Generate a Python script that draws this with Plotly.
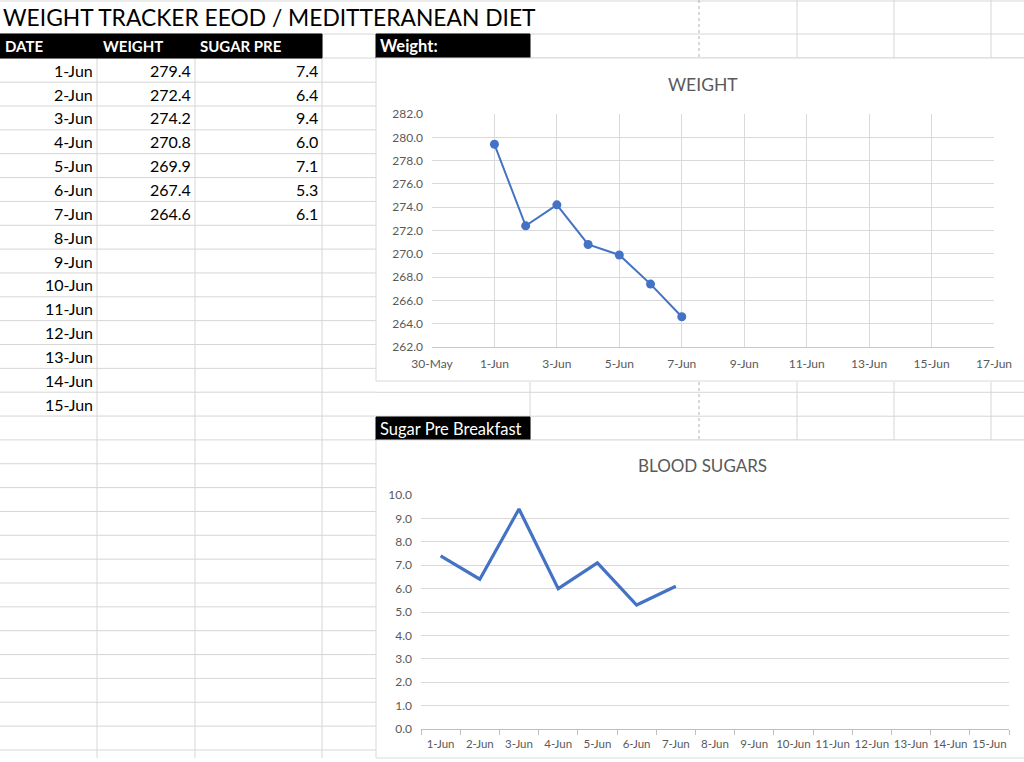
import plotly.graph_objects as go
import pandas as pd

# sheet data
date_labels = ["1-Jun", "2-Jun", "3-Jun", "4-Jun", "5-Jun", "6-Jun", "7-Jun", "8-Jun",
               "9-Jun", "10-Jun", "11-Jun", "12-Jun", "13-Jun", "14-Jun", "15-Jun"]
weight = [279.4, 272.4, 274.2, 270.8, 269.9, 267.4, 264.6]
sugar_pre = [7.4, 6.4, 9.4, 6.0, 7.1, 5.3, 6.1]
headers = ["DATE", "WEIGHT", "SUGAR PRE"]
sheet_title = "WEIGHT TRACKER EEOD / MEDITTERANEAN DIET"

W, H = 1024, 762
blue = "#4472C4"
cell_line = "#d6d6d6"
txt_gray = "#595959"
font_name = "Lato"


def px(x):
    return x / W


def py(y):
    return 1 - y / H


weight_dates = pd.to_datetime([d + "-2020" for d in date_labels[:len(weight)]], format="%d-%b-%Y")

fig = go.Figure()

# weight chart
fig.add_trace(go.Scatter(x=weight_dates, y=weight, mode="lines+markers",
                         line=dict(color=blue, width=2),
                         marker=dict(color=blue, size=9),
                         xaxis="x", yaxis="y"))

# sugar chart
fig.add_trace(go.Scatter(x=date_labels[:len(sugar_pre)], y=sugar_pre, mode="lines",
                         line=dict(color=blue, width=3.2),
                         xaxis="x2", yaxis="y2"))

shapes = []
annotations = []


def hline(y, x0, x1, color=cell_line, dash="solid"):
    shapes.append(dict(type="line", xref="paper", yref="paper", x0=px(x0), x1=px(x1),
                       y0=py(y), y1=py(y), line=dict(color=color, width=1, dash=dash), layer="below"))


def vline(x, y0, y1, color=cell_line, dash="solid"):
    shapes.append(dict(type="line", xref="paper", yref="paper", x0=px(x), x1=px(x),
                       y0=py(y0), y1=py(y1), line=dict(color=color, width=1, dash=dash), layer="below"))


def rect(x0, y0, x1, y1, fill, line_color=None):
    shapes.append(dict(type="rect", xref="paper", yref="paper", x0=px(x0), x1=px(x1),
                       y0=py(y1), y1=py(y0), fillcolor=fill,
                       line=dict(color=line_color or fill, width=1), layer="below"))


def text(x, y, s, size=16, color="black", anchor="left", bold=False):
    annotations.append(dict(xref="paper", yref="paper", x=px(x), y=py(y), text=("<b>%s</b>" % s) if bold else s,
                            showarrow=False, xanchor=anchor, yanchor="middle",
                            font=dict(family=font_name, size=size, color=color)))


# spreadsheet grid
row0, row_h = 58.3, 23.85
rows = [row0 + row_h * k for k in range(30)]
hline(1, 0, W)
hline(34, 0, W)
hline(58, 0, W)
for y in rows[1:]:
    hline(y, 0, 376)
for x in [97, 195, 322]:
    vline(x, 34, 758)
for x in [797, 894, 991]:
    vline(x, 0, 58)
vline(699, 0, 58, color="#b0b0b0", dash="dot")
# cells between the two charts
for y in [392.3, 416.2, 440]:
    hline(y, 376, W)
for x in [530, 797, 894, 991]:
    vline(x, 382, 440)
vline(699, 382, 440, color="#b0b0b0", dash="dot")

# header blocks
rect(0, 34, 322, 58, "black")
rect(376, 34, 530, 58, "black")
rect(376, 417, 530, 440, "black")

# chart frames
rect(376, 58, W + 5, 381, "white", "#d9d9d9")
rect(376, 440, W + 5, 758, "white", "#d9d9d9")

# texts
text(1, 17, sheet_title, size=22.8)
for x, h in zip([3, 101, 198], headers):
    text(x, 46, h, size=15, color="white", bold=True)
text(378, 46, "Weight:", size=16.5, color="white", bold=True)
text(378, 429, "Sugar Pre Breakfast", size=16.5, color="white")
for i, d in enumerate(date_labels):
    yc = row0 + row_h * (i + 0.5)
    text(95, yc, d, anchor="right")
    if i < len(weight):
        text(193, yc, "%.1f" % weight[i], anchor="right")
        text(320, yc, "%.1f" % sugar_pre[i], anchor="right")

text(703, 84, "WEIGHT", size=17.5, color=txt_gray, anchor="center")
text(702, 465, "BLOOD SUGARS", size=17, color=txt_gray, anchor="center")

tick_font = dict(family=font_name, size=12, color=txt_gray)

fig.update_layout(
    width=W, height=H, showlegend=False,
    margin=dict(l=0, r=0, t=0, b=0, pad=0, autoexpand=False),
    paper_bgcolor="white", plot_bgcolor="rgba(0,0,0,0)",
    shapes=shapes, annotations=annotations,
    xaxis=dict(domain=[px(432), px(994)], type="date",
               range=["2020-05-30", "2020-06-17"], tick0="2020-05-30", dtick=2 * 86400000,
               tickformat="%-d-%b", showgrid=True, gridcolor="#d9d9d9", zeroline=False,
               showline=True, linecolor="#c8c8c8", ticks="", tickfont=tick_font,
               tickangle=0, ticklabelstandoff=6, anchor="y", automargin=False),
    yaxis=dict(domain=[py(347), py(114)], range=[262, 282], dtick=2, tickformat=".1f",
               showgrid=True, gridcolor="#d9d9d9", zeroline=False, showline=False,
               tickfont=tick_font, ticklabelstandoff=8, anchor="x", automargin=False),
    xaxis2=dict(domain=[px(421), px(1009)], type="category", categoryorder="array",
                categoryarray=date_labels, range=[-0.5, len(date_labels) - 0.5],
                showgrid=False, zeroline=False, showline=True, linecolor="#bfbfbf",
                ticks="outside", tickson="boundaries", ticklen=5, tickcolor="#bfbfbf",
                tickfont=dict(family=font_name, size=11.5, color=txt_gray), tickangle=0,
                ticklabelstandoff=4, anchor="y2", automargin=False),
    yaxis2=dict(domain=[py(729), py(495)], range=[0, 10], dtick=1, tickformat=".1f",
                showgrid=True, gridcolor="#d9d9d9", zeroline=False, showline=False,
                tickfont=tick_font, ticklabelstandoff=8, anchor="x2", automargin=False),
)

# drop the default page margin so the figure sits at the window's corner
fig.write_html("out.html", config={"displayModeBar": False},
               post_script="document.body.style.margin = '0';")
